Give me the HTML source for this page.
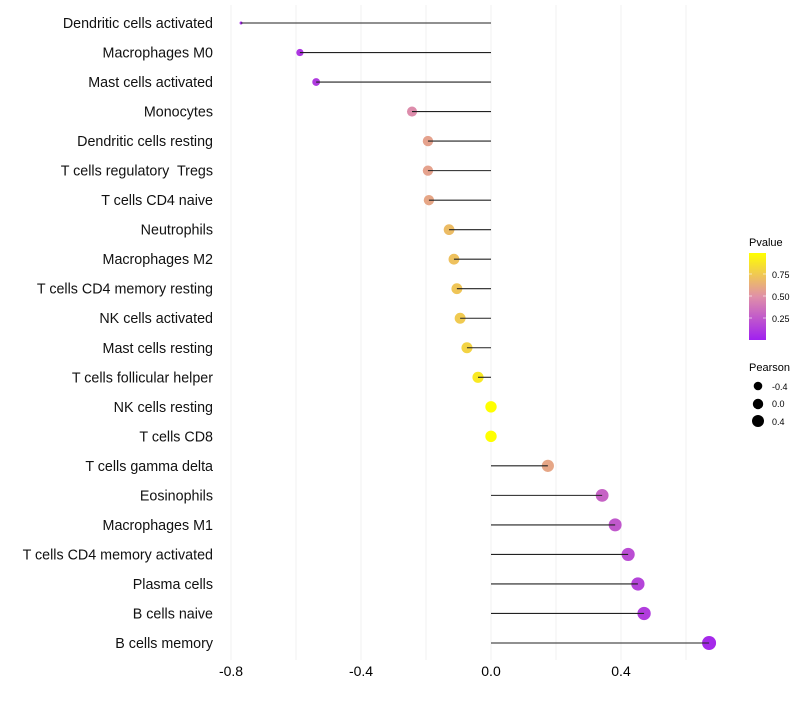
<!DOCTYPE html>
<html><head><meta charset="utf-8"><style>
body{margin:0;background:#fff;font-family:"Liberation Sans",sans-serif}
</style></head><body>
<svg id="c" width="800" height="700" xmlns="http://www.w3.org/2000/svg">
<defs><linearGradient id="pg" x1="0" y1="1" x2="0" y2="0">
<stop offset="0" stop-color="#a020f0"/><stop offset="0.5" stop-color="#e090a8"/><stop offset="1" stop-color="#ffff00"/></linearGradient></defs>
<g id="grid"></g><g id="marks"></g><g id="labels"></g>
<g>
<text x="749" y="246" font-size="11" fill="#000">Pvalue</text>
<rect x="749" y="253" width="17" height="87" fill="url(#pg)"/>
<g stroke="#fff" stroke-opacity="0.6"><line x1="749" y1="274" x2="752" y2="274"/><line x1="763" y1="274" x2="766" y2="274"/><line x1="749" y1="296" x2="752" y2="296"/><line x1="763" y1="296" x2="766" y2="296"/><line x1="749" y1="318" x2="752" y2="318"/><line x1="763" y1="318" x2="766" y2="318"/></g>
<text x="772" y="278" font-size="9">0.75</text><text x="772" y="300" font-size="9">0.50</text><text x="772" y="322" font-size="9">0.25</text>
</g>
<g>
<text x="749" y="371" font-size="11">Pearson</text>
<circle cx="758" cy="386" r="4.3"/><text x="772" y="390" font-size="9">-0.4</text>
<circle cx="758" cy="404" r="5.2"/><text x="772" y="407" font-size="9">0.0</text>
<circle cx="758" cy="421" r="6"/><text x="772" y="425" font-size="9">0.4</text>
</g>
</svg>
<script>
const cells=["Dendritic cells activated","Macrophages M0","Mast cells activated","Monocytes","Dendritic cells resting","T cells regulatory  Tregs","T cells CD4 naive","Neutrophils","Macrophages M2","T cells CD4 memory resting","NK cells activated","Mast cells resting","T cells follicular helper","NK cells resting","T cells CD8","T cells gamma delta","Eosinophils","Macrophages M1","T cells CD4 memory activated","Plasma cells","B cells naive","B cells memory"];
const pearson=[-0.769,-0.588,-0.538,-0.243,-0.194,-0.194,-0.191,-0.129,-0.114,-0.105,-0.095,-0.074,-0.04,0,0,0.175,0.342,0.382,0.422,0.452,0.471,0.671];
const pvalue=[0.05,0.1,0.12,0.48,0.58,0.58,0.6,0.7,0.72,0.74,0.76,0.8,0.9,1,1,0.6,0.3,0.25,0.2,0.16,0.13,0.04];
const xticks=[-0.8,-0.4,0.0,0.4];
const xgrid=[-0.8,-0.6,-0.4,-0.2,0,0.2,0.4,0.6];
const NS="http://www.w3.org/2000/svg";
const X=v=>491+v*325, Y=i=>23+i*(620/21);
function mk(t,a,p){const e=document.createElementNS(NS,t);for(const k in a)e.setAttribute(k,a[k]);p.appendChild(e);return e;}
function col(p){const s=[[0,[160,32,240]],[0.5,[224,144,168]],[1,[255,255,0]]];let a=s[0],b=s[1];if(p>0.5){a=s[1];b=s[2];}const t=(p-a[0])/(b[0]-a[0]);return "rgb("+a[1].map((c,i)=>Math.round(c+(b[1][i]-c)*t)).join(",")+")";}
const g=document.getElementById('grid'),m=document.getElementById('marks'),l=document.getElementById('labels');
xgrid.forEach(v=>{const e=mk('line',{x1:X(v),x2:X(v),y1:5,y2:660,stroke:'#f0f0f0','stroke-width':1},g);

});
xticks.forEach(v=>{const e=mk('text',{x:X(v),y:676,'text-anchor':'middle','font-size':14,fill:'#000'},l);e.textContent=v.toFixed(1);

});
const minv=Math.min(...pearson),maxv=Math.max(...pearson);
cells.forEach((c,i)=>{
const t=mk('text',{x:213,y:Y(i)+5,'text-anchor':'end','font-size':14.3,fill:'#111','xml:space':'preserve'},l);t.textContent=c;t.style.whiteSpace='pre';


const f=(pearson[i]-minv)/(maxv-minv);
const r=Math.sqrt(2.25+Math.pow(f,0.7)*46.75);
const d=mk('circle',{cx:X(pearson[i]),cy:Y(i),r:r,fill:col(pvalue[i])},m);


const ln=mk('line',{x1:X(pearson[i]),x2:X(0),y1:Y(i),y2:Y(i),stroke:'#222','stroke-width':1.1},m);


});
</script>
</body></html>
